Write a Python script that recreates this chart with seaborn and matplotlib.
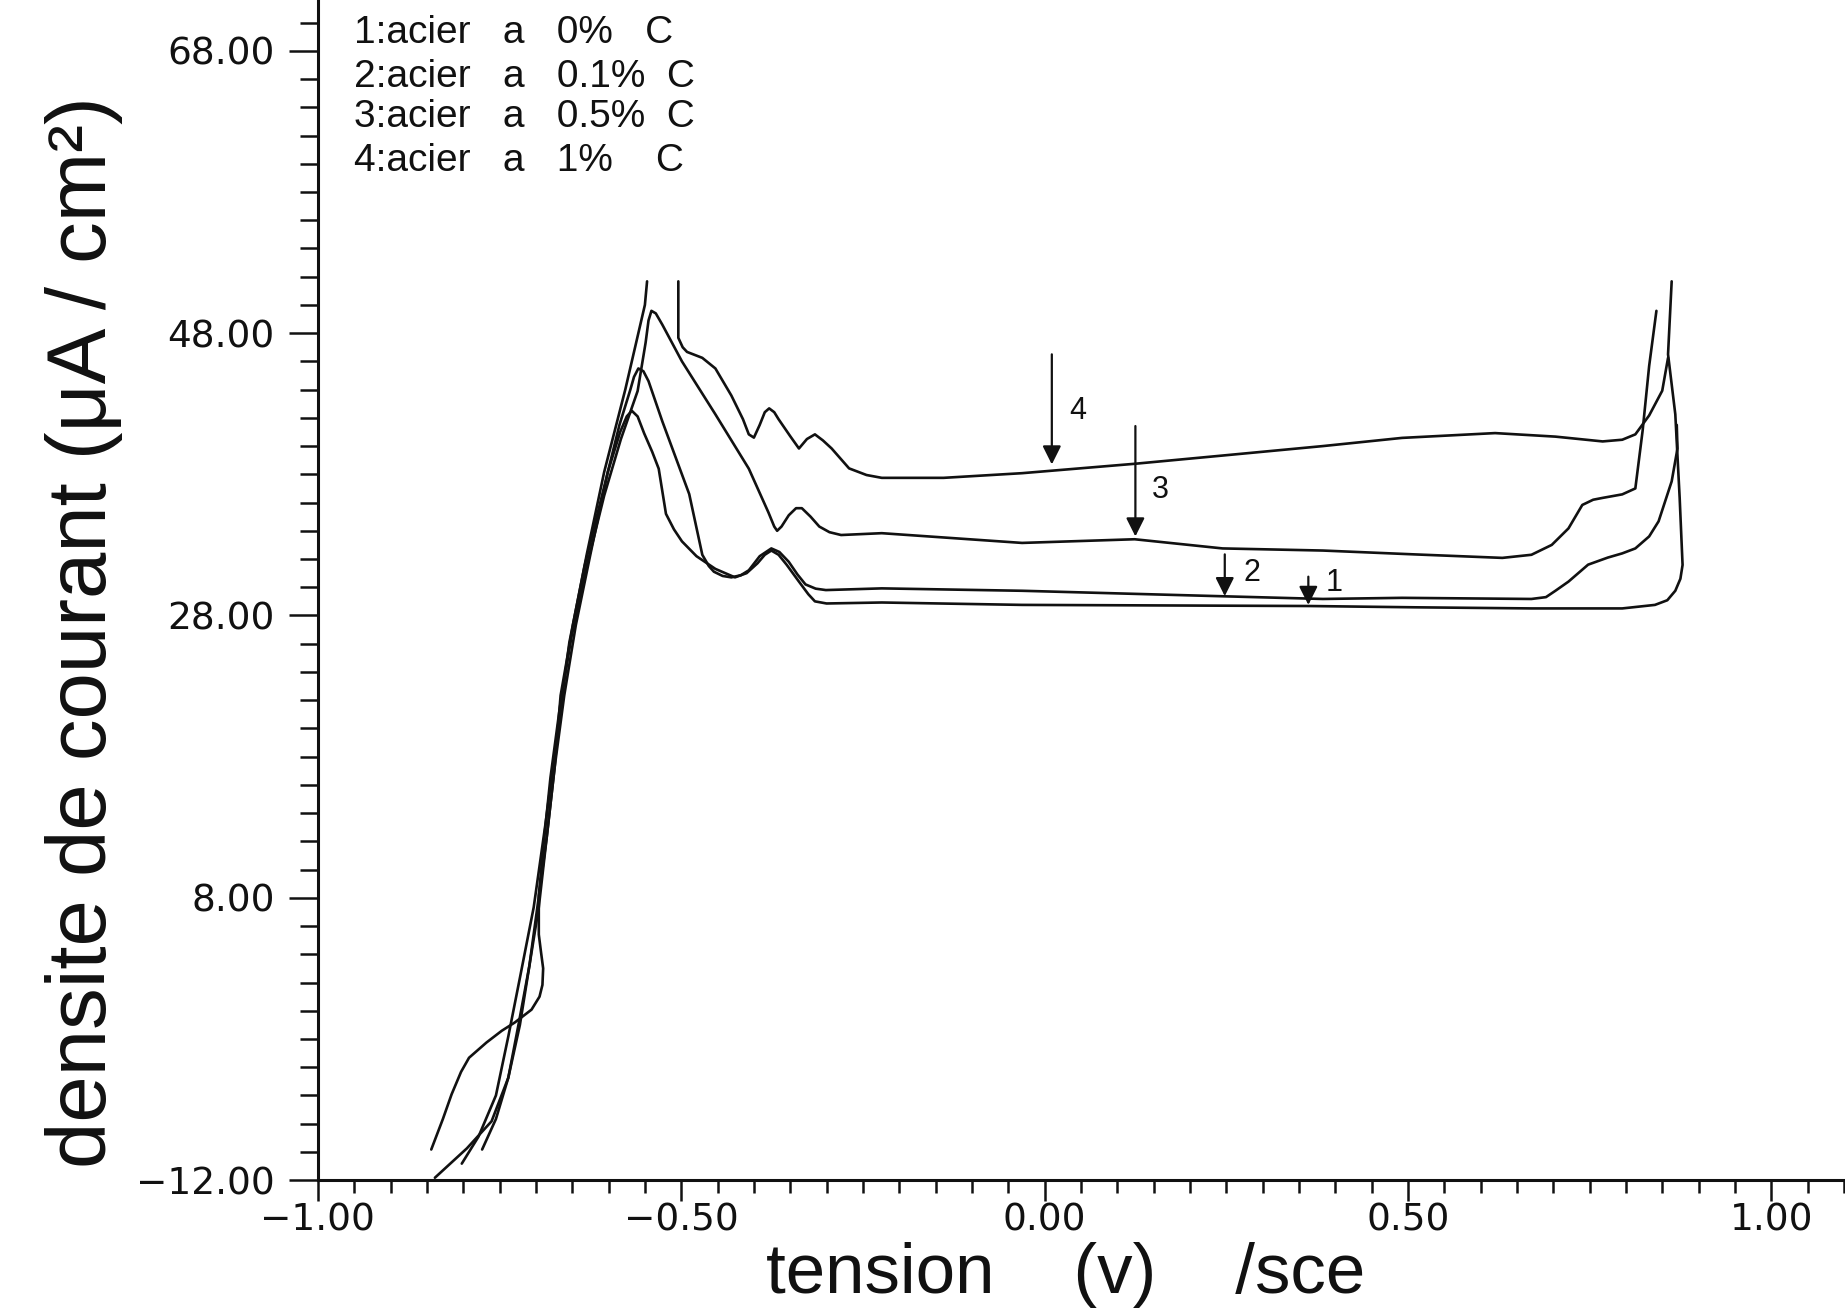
import pandas as pd
import seaborn as sns
import matplotlib.pyplot as plt
from matplotlib.ticker import MultipleLocator

# ---------------------
# digitised polarisation curves: tension (V/sce) vs densite de courant (uA/cm2)

c1_x = [-0.839, -0.795, -0.761, -0.738, -0.724, -0.709, -0.696, -0.685, -0.674, -0.661,
        -0.645, -0.625, -0.601, -0.584, -0.575, -0.568, -0.560, -0.551, -0.540, -0.531,
        -0.521, -0.510, -0.499, -0.479, -0.453, -0.426, -0.410, -0.395, -0.385, -0.376,
        -0.366, -0.355, -0.338, -0.325, -0.316, -0.300, -0.224, -0.031, 0.365, 0.508,
        0.670, 0.795, 0.840, 0.857, 0.868, 0.875, 0.878, 0.874, 0.868, 0.858, 0.863]
c1_y = [-11.83, -9.75, -7.83, -4.75, -1.0, 3.17, 7.33, 12.33, 17.33, 22.33,
        27.33, 32.33, 38.17, 41.0, 42.1, 42.5, 42.1, 40.9, 39.6, 38.4,
        35.2, 34.1, 33.25, 32.2, 31.3, 30.7, 31.0, 31.7, 32.3, 32.6,
        32.3, 31.6, 30.4, 29.5, 29.0, 28.85, 28.92, 28.75, 28.67, 28.58,
        28.5, 28.5, 28.75, 29.08, 29.75, 30.6, 31.58, 36.33, 42.25, 46.5, 51.67]

c2_x = [-0.802, -0.779, -0.755, -0.738, -0.722, -0.703, -0.687, -0.670, -0.654, -0.633,
        -0.609, -0.585, -0.570, -0.565, -0.559, -0.552, -0.545, -0.526, -0.489, -0.471,
        -0.462, -0.455, -0.443, -0.431, -0.418, -0.407, -0.392, -0.376, -0.365, -0.352,
        -0.340, -0.329, -0.315, -0.301, -0.224, -0.031, 0.246, 0.383, 0.492, 0.670,
        0.690, 0.703, 0.721, 0.748, 0.775, 0.795, 0.813, 0.832, 0.845, 0.863, 0.871, 0.870]
c2_y = [-10.83, -8.92, -6.0, -1.83, 2.33, 7.33, 13.17, 19.83, 26.08, 31.5,
        36.5, 41.5, 44.0, 44.9, 45.5, 45.3, 44.6, 41.75, 36.6, 32.3,
        31.5, 31.1, 30.8, 30.7, 30.85, 31.2, 32.2, 32.75, 32.5, 31.8,
        30.9, 30.2, 29.9, 29.8, 29.92, 29.75, 29.36, 29.17, 29.25, 29.17,
        29.3, 29.75, 30.4, 31.6, 32.1, 32.4, 32.75, 33.6, 34.67, 37.5, 39.83, 41.5]

c3_x = [-0.844, -0.828, -0.816, -0.803, -0.792, -0.768, -0.747, -0.729, -0.706, -0.695,
        -0.691, -0.690, -0.693, -0.696, -0.696, -0.690, -0.680, -0.667, -0.651, -0.630,
        -0.606, -0.583, -0.560, -0.549, -0.545, -0.541, -0.535, -0.526, -0.499, -0.453,
        -0.407, -0.380, -0.372, -0.368, -0.362, -0.352, -0.342, -0.334, -0.322, -0.310,
        -0.296, -0.280, -0.224, -0.031, 0.124, 0.245, 0.383, 0.508, 0.630, 0.670,
        0.698, 0.721, 0.740, 0.755, 0.768, 0.795, 0.813, 0.823, 0.832, 0.842]
c3_y = [-9.83, -7.67, -5.92, -4.33, -3.33, -2.25, -1.42, -0.83, 0.08, 1.0,
        1.83, 3.0, 4.17, 5.4, 8.17, 11.5, 16.5, 21.5, 26.5, 31.5,
        36.5, 40.5, 43.9, 47.33, 48.9, 49.58, 49.4, 48.6, 46.0, 42.25,
        38.4, 35.3, 34.3, 34.0, 34.3, 35.1, 35.6, 35.6, 35.0, 34.3,
        33.9, 33.7, 33.83, 33.14, 33.4, 32.75, 32.6, 32.33, 32.08, 32.3,
        33.0, 34.17, 35.83, 36.2, 36.33, 36.58, 37.0, 41.08, 45.67, 49.58]

# curve 4 goes off the top near -0.5 V: rising and falling branches kept apart
c4a_x = [-0.774, -0.755, -0.738, -0.722, -0.709, -0.698, -0.685, -0.674, -0.666, -0.649,
         -0.630, -0.606, -0.577, -0.550, -0.547]
c4a_y = [-9.83, -7.67, -4.75, -1.0, 3.17, 7.33, 12.33, 17.33, 22.33, 27.33,
         32.33, 38.17, 44.0, 50.0, 51.67]

c4b_x = [-0.504, -0.504, -0.498, -0.492, -0.471, -0.453, -0.431, -0.415, -0.407, -0.400,
         -0.392, -0.385, -0.379, -0.372, -0.366, -0.350, -0.338, -0.327, -0.316, -0.305,
         -0.293, -0.269, -0.245, -0.224, -0.139, -0.031, 0.125, 0.245, 0.383, 0.492,
         0.620, 0.703, 0.768, 0.795, 0.813, 0.832, 0.850, 0.858]
c4b_y = [51.67, 47.67, 47.0, 46.67, 46.25, 45.5, 43.58, 41.9, 40.83, 40.6,
         41.5, 42.4, 42.67, 42.4, 41.9, 40.7, 39.83, 40.5, 40.83, 40.4,
         39.83, 38.42, 37.95, 37.75, 37.75, 38.08, 38.75, 39.33, 40.0, 40.58,
         40.92, 40.67, 40.33, 40.45, 40.83, 42.17, 43.92, 46.25]

# curve markers (arrows drawn down onto each plateau)
arrow_names = ['1', '2', '3', '4']
arrow_x = [0.363, 0.248, 0.125, 0.010]
arrow_top = [30.75, 32.33, 41.42, 46.5]
arrow_tip = [28.75, 29.37, 33.6, 38.7]
arrow_lab_x = [0.398, 0.285, 0.159, 0.045]
arrow_lab_y = [30.3, 31.0, 36.9, 42.46]

legend_lines = ['1:acier   a   0%   C', '2:acier   a   0.1%  C',
                '3:acier   a   0.5%  C', '4:acier   a   1%    C']
legend_y = [69.25, 66.17, 63.33, 60.17]

x_ticks = [-1.0, -0.5, 0.0, 0.5, 1.0]
x_ticklabels = ['\u22121.00', '\u22120.50', '0.00', '0.50', '1.00']
y_ticks = [-12, 8, 28, 48, 68]
y_ticklabels = ['\u221212.00', '8.00', '28.00', '48.00', '68.00']

#---------------------

sns.set_style('ticks')
plt.rcParams['font.family'] = ['Liberation Sans', 'DejaVu Sans']

frames = []
for name, xs, ys in [('1', c1_x, c1_y), ('2', c2_x, c2_y), ('3', c3_x, c3_y),
                     ('4a', c4a_x, c4a_y), ('4b', c4b_x, c4b_y)]:
    frames.append(pd.DataFrame({'tension': xs, 'densite': ys, 'trace': name}))
df = pd.concat(frames, ignore_index=True)

fig = plt.figure(figsize=(18.45, 13.12), dpi=100)
ax = fig.add_axes([0.1723, 0.1005, 0.8271, 0.8995])

sns.lineplot(data=df, x='tension', y='densite', units='trace', estimator=None,
             sort=False, color='#111111', lw=1.9, legend=False, ax=ax)

for name, x, y0, y1, lx, ly in zip(arrow_names, arrow_x, arrow_top, arrow_tip,
                                   arrow_lab_x, arrow_lab_y):
    ax.annotate('', xy=(x, y1), xytext=(x, y0),
                arrowprops=dict(arrowstyle='-|>', color='#111111', lw=1.6,
                                mutation_scale=28, shrinkA=0, shrinkB=0))
    ax.text(lx, ly, name, fontsize=22, color='#111111', va='center', ha='center')

for txt, y in zip(legend_lines, legend_y):
    ax.text(-0.951, y, txt, fontsize=28, color='#111111', va='center', ha='left')

ax.set_xlim(-1.0, 1.10)
ax.set_ylim(-12, 71.6)
ax.set_xticks(x_ticks, labels=x_ticklabels)
ax.set_yticks(y_ticks, labels=y_ticklabels)
ax.xaxis.set_minor_locator(MultipleLocator(0.05))
ax.yaxis.set_minor_locator(MultipleLocator(2))

ax.tick_params(axis='both', which='both', direction='out', width=1.8, color='#111111',
               labelsize=27, labelcolor='#111111')
ax.tick_params(axis='x', which='major', length=15, pad=1)
ax.tick_params(axis='x', which='minor', length=9)
ax.tick_params(axis='y', which='major', length=21, pad=10)
ax.tick_params(axis='y', which='minor', length=13)
for lab in ax.get_xticklabels() + ax.get_yticklabels():
    lab.set_family('DejaVu Sans')

sns.despine(ax=ax)
for side in ['left', 'bottom']:
    ax.spines[side].set_linewidth(2.2)
    ax.spines[side].set_color('#111111')

ax.set_xlabel('tension    (v)    /sce', fontsize=51, color='#111111')
ax.set_ylabel('densite de courant (\u03bcA / cm\u00b2)', fontsize=60, color='#111111')
ax.xaxis.set_label_coords(0.49, -0.0525)
ax.yaxis.set_label_coords(-0.128, 0.464)

fig.savefig('out.png', dpi=100, facecolor='white')
